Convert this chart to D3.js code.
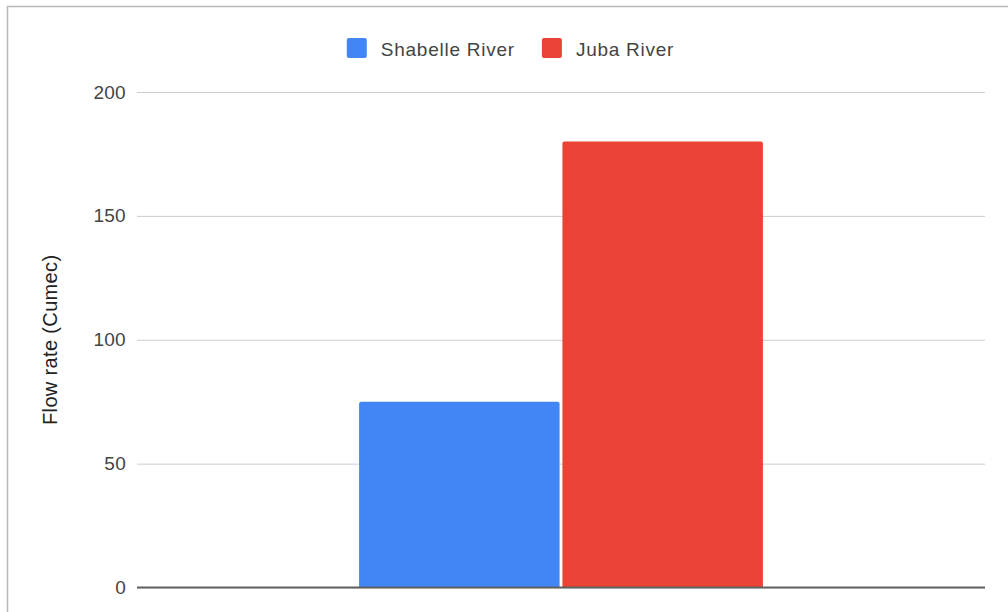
<!DOCTYPE html>
<html>
<head>
<meta charset="utf-8">
<script src="https://cdn.jsdelivr.net/npm/d3@7"></script>
<style>
  html, body { margin: 0; padding: 0; background: #fff; }
  svg { display: block; font-family: "Liberation Sans", Arial, sans-serif; }
</style>
</head>
<body>
<svg id="chart" width="1008" height="612"></svg>
<script>
// Flow rates of the two rivers
const categories = [""];
const seriesNames = ["Shabelle River", "Juba River"];
const seriesValues = [[75], [180]];
const seriesColors = ["#4285f4", "#ea4335"];
const yTicks = [0, 50, 100, 150, 200];
const yTitle = "Flow rate (Cumec)";

const svg = d3.select("#chart");
const W = 1008, H = 612;
const plot = { left: 137, right: 985, top: 92, bottom: 587.5 };

// Outer frame
svg.append("rect")
  .attr("x", 7.5).attr("y", 6.5)
  .attr("width", W + 10).attr("height", H + 10)
  .attr("fill", "#fff").attr("stroke", "#b7b7b7").attr("stroke-width", 1.5);

const y = d3.scaleLinear().domain([0, 200]).range([plot.bottom, plot.top]);
const x0 = d3.scaleBand().domain(categories)
  .range([plot.left, plot.right]).paddingInner(0).paddingOuter(0.55);
const x1 = d3.scaleBand().domain(seriesNames)
  .range([0, x0.bandwidth()]).paddingInner(0.014);

// Gridlines and tick labels
const yAxis = d3.axisLeft(y).tickValues(yTicks)
  .tickSize(-(plot.right - plot.left)).tickPadding(11).tickFormat(d3.format("d"));
const gAxis = svg.append("g")
  .attr("transform", `translate(${plot.left},0)`)
  .call(yAxis);
gAxis.select(".domain").remove();
gAxis.selectAll(".tick line")
  .attr("stroke", "#cccccc").attr("stroke-width", 1)
  .attr("x1", 0);
gAxis.selectAll(".tick text")
  .attr("fill", "#444").attr("font-size", 19)
  .attr("x", -11).attr("letter-spacing", 0.3)
  .attr("font-family", "'Liberation Sans', Arial, sans-serif");

// Bars with slightly rounded top corners
function barPath(x, yTop, w, yBase, r) {
  return `M${x},${yBase}V${yTop + r}Q${x},${yTop} ${x + r},${yTop}` +
         `H${x + w - r}Q${x + w},${yTop} ${x + w},${yTop + r}V${yBase}Z`;
}
const data = seriesNames.map((name, i) => ({
  name, color: seriesColors[i], value: seriesValues[i][0], cat: categories[0]
}));
svg.append("g").selectAll("path")
  .data(data)
  .join("path")
  .attr("d", d => barPath(x0(d.cat) + x1(d.name), y(d.value), x1.bandwidth(), y(0), 2))
  .attr("fill", d => d.color);

// Baseline
svg.append("line")
  .attr("x1", plot.left).attr("x2", plot.right)
  .attr("y1", y(0)).attr("y2", y(0))
  .attr("stroke", "#616161").attr("stroke-width", 2);

// Y axis title
svg.append("text")
  .attr("transform", `translate(57,${(plot.top + plot.bottom) / 2}) rotate(-90)`)
  .attr("text-anchor", "middle")
  .attr("font-size", 20).attr("fill", "#222").attr("letter-spacing", 0.35)
  .text(yTitle);

// Legend, centered across the top
const legend = svg.append("g");
const items = legend.selectAll("g").data(data).join("g");
items.append("rect")
  .attr("width", 20).attr("height", 20).attr("rx", 2)
  .attr("y", 38).attr("fill", d => d.color);
items.append("text")
  .attr("x", 34).attr("y", 56)
  .attr("font-size", 19).attr("fill", "#444").attr("letter-spacing", 0.75)
  .text(d => d.name);
let offset = 0;
items.each(function() {
  const tw = d3.select(this).select("text").node().getComputedTextLength();
  d3.select(this).attr("transform", `translate(${offset},0)`);
  offset += 34 + tw + 27;
});
const legendWidth = offset - 27;
legend.attr("transform", `translate(${510.5 - legendWidth / 2},0)`);
</script>
</body>
</html>
